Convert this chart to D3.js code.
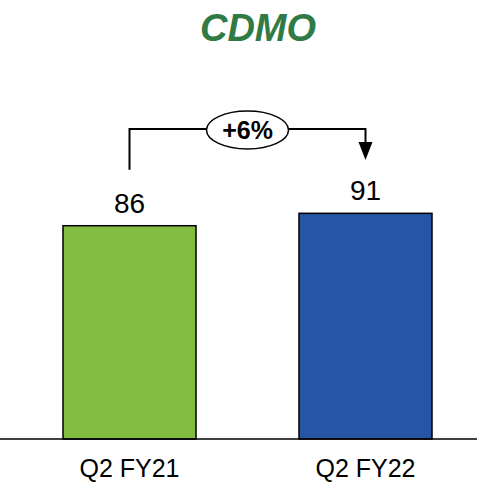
<!DOCTYPE html>
<html>
<head>
<meta charset="utf-8">
<script src="https://cdn.jsdelivr.net/npm/d3@7"></script>
<style>
  html, body { margin: 0; padding: 0; background: #fff; }
  svg { display: block; }
</style>
</head>
<body>
<svg id="chart" width="477" height="487"></svg>
<script>
const title = "CDMO";
const categories = ["Q2 FY21", "Q2 FY22"];
const values = [86, 91];
const growthLabel = "+6%";
const barColors = ["#82bc41", "#2655a6"];

const svg = d3.select("#chart");
const font = "'Liberation Sans', Arial, sans-serif";

const x = d3.scaleBand()
  .domain(categories)
  .range([12, 483])
  .paddingInner(0.4364)
  .paddingOuter(0.2161);

const y = d3.scaleLinear().domain([0, 100]).range([439, 191]);

// Title
svg.append("text")
  .attr("x", 258).attr("y", 41)
  .attr("text-anchor", "middle")
  .attr("font-family", font)
  .attr("font-weight", "bold")
  .attr("font-style", "italic")
  .attr("font-size", 38)
  .attr("fill", "#2f7a45")
  .text(title);

// Bars
svg.selectAll("rect.bar")
  .data(values)
  .join("rect")
  .attr("class", "bar")
  .attr("x", (d, i) => x(categories[i]))
  .attr("y", d => y(d))
  .attr("width", x.bandwidth())
  .attr("height", d => y(0) - y(d))
  .attr("fill", (d, i) => barColors[i])
  .attr("stroke", "#000")
  .attr("stroke-width", 1.5);

// Value labels
svg.selectAll("text.val")
  .data(values)
  .join("text")
  .attr("class", "val")
  .attr("x", (d, i) => x(categories[i]) + x.bandwidth() / 2)
  .attr("y", d => y(d) - 13)
  .attr("text-anchor", "middle")
  .attr("font-family", font)
  .attr("font-size", 28)
  .attr("fill", "#000")
  .text(d => d);

// Axis
const axis = d3.axisBottom(x).tickSize(0).tickPadding(20);
const gAxis = svg.append("g").attr("transform", `translate(0,${y(0)})`).call(axis);
gAxis.select(".domain").attr("d", "M0,0H477").attr("stroke", "#000").attr("stroke-width", 1.5);
gAxis.selectAll("text")
  .attr("font-family", font)
  .attr("font-size", 25)
  .attr("fill", "#000")
  .attr("dy", "0.71em");

// Growth bracket
const x1 = x(categories[0]) + x.bandwidth() / 2;
const x2 = x(categories[1]) + x.bandwidth() / 2;
const yLine = 129;
const yLeftBottom = y(values[0]) - 56;
const arrowTip = 160;
svg.append("path")
  .attr("d", `M${x1},${yLeftBottom}V${yLine}H${x2}V${arrowTip - 16}`)
  .attr("fill", "none")
  .attr("stroke", "#000")
  .attr("stroke-width", 2);
svg.append("path")
  .attr("d", `M${x2 - 7},${arrowTip - 18}L${x2 + 7},${arrowTip - 18}L${x2},${arrowTip}Z`)
  .attr("fill", "#000");
const cx = (x1 + x2) / 2;
svg.append("ellipse")
  .attr("cx", cx).attr("cy", 130)
  .attr("rx", 41).attr("ry", 19)
  .attr("fill", "#fff")
  .attr("stroke", "#000")
  .attr("stroke-width", 1.5);
svg.append("text")
  .attr("x", cx).attr("y", 139)
  .attr("text-anchor", "middle")
  .attr("font-family", font)
  .attr("font-weight", "bold")
  .attr("font-size", 25)
  .attr("fill", "#000")
  .text(growthLabel);
</script>
</body>
</html>
